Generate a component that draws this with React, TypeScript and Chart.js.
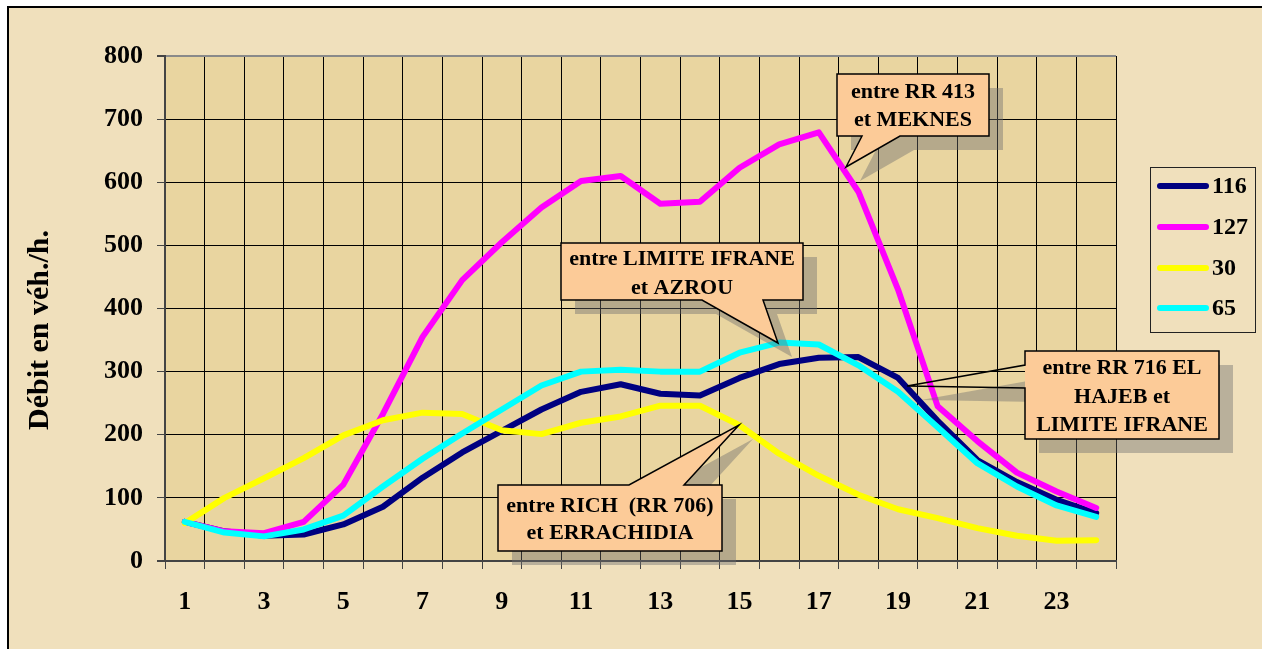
import React, { useEffect, useRef } from "react";
import { Chart, registerables } from "chart.js";

Chart.register(...registerables);

// ---------- DATA ----------
const hours = ["1", "2", "3", "4", "5", "6", "7", "8", "9", "10", "11", "12", "13", "14", "15", "16", "17", "18", "19", "20", "21", "22", "23", "24"];
const series116 = [62, 47, 40, 42, 58, 86, 132, 172, 206, 240, 268, 280, 265, 262, 290, 312, 322, 323, 290, 222, 160, 125, 97, 76];
const series127 = [62, 47, 44, 62, 121, 233, 355, 445, 505, 560, 602, 610, 566, 569, 623, 660, 679, 585, 430, 245, 190, 140, 110, 84];
const series30 = [60, 100, 131, 163, 199, 223, 235, 233, 207, 201, 219, 229, 246, 246, 215, 170, 135, 105, 82, 68, 52, 40, 32, 33];
const series65 = [62, 45, 39, 50, 72, 118, 162, 202, 240, 278, 300, 303, 300, 300, 330, 346, 343, 310, 268, 212, 155, 118, 88, 70];
const seriesNames = ["116", "127", "30", "65"];
const seriesColors = ["#000080", "#FF00FF", "#FFFF00", "#00FFFF"];
const yTitle = "Débit en véh./h.";
const calloutMeknes = ["entre RR 413", "et MEKNES"];
const calloutAzrou = ["entre LIMITE IFRANE", "et AZROU"];
const calloutHajeb = ["entre RR 716 EL", "HAJEB et", "LIMITE IFRANE"];
const calloutRich = ["entre RICH  (RR 706)", "et ERRACHIDIA"];

const FONT = "'Liberation Serif', 'Times New Roman', serif";

type Pt = [number, number];

function drawCallout(
  ctx: CanvasRenderingContext2D,
  poly: Pt[],
  rect: [number, number, number, number],
  lines: string[],
  textY: number[],
  fillWedge: boolean
) {
  const off = 14;
  // shadow
  ctx.save();
  ctx.fillStyle = "rgba(110,110,110,0.42)";
  ctx.beginPath();
  poly.forEach((p, i) => (i ? ctx.lineTo(p[0] + off, p[1] + off) : ctx.moveTo(p[0] + off, p[1] + off)));
  ctx.closePath();
  ctx.fill();
  ctx.restore();
  // body
  ctx.save();
  ctx.fillStyle = "#FCCB98";
  ctx.beginPath();
  if (fillWedge) {
    poly.forEach((p, i) => (i ? ctx.lineTo(p[0], p[1]) : ctx.moveTo(p[0], p[1])));
    ctx.closePath();
  } else {
    ctx.rect(rect[0], rect[1], rect[2], rect[3]);
  }
  ctx.fill();
  ctx.strokeStyle = "#000";
  ctx.lineWidth = 1.5;
  ctx.lineJoin = "miter";
  ctx.beginPath();
  poly.forEach((p, i) => (i ? ctx.lineTo(p[0], p[1]) : ctx.moveTo(p[0], p[1])));
  ctx.closePath();
  ctx.stroke();
  ctx.fillStyle = "#000";
  ctx.font = `bold 22px ${FONT}`;
  ctx.textAlign = "center";
  ctx.textBaseline = "middle";
  const cx = rect[0] + rect[2] / 2;
  lines.forEach((t, i) => ctx.fillText(t, cx, textY[i]));
  ctx.restore();
}

const backgroundPlugin = {
  id: "bgPlugin",
  beforeDraw(chart: any) {
    const { ctx, chartArea } = chart;
    ctx.save();
    ctx.fillStyle = "#FFFFFF";
    ctx.fillRect(0, 0, chart.width, chart.height);
    ctx.fillStyle = "#F0E0BC";
    ctx.fillRect(8, 7, chart.width - 8, chart.height - 7);
    ctx.strokeStyle = "#000";
    ctx.lineWidth = 2;
    ctx.beginPath();
    ctx.moveTo(8, chart.height);
    ctx.lineTo(8, 7);
    ctx.lineTo(chart.width, 7);
    ctx.stroke();
    ctx.fillStyle = "#E9D5A0";
    ctx.fillRect(chartArea.left, chartArea.top, chartArea.right - chartArea.left, chartArea.bottom - chartArea.top);
    ctx.restore();
  },
};

const overlayPlugin = {
  id: "overlayPlugin",
  afterDraw(chart: any) {
    const { ctx } = chart;
    // y title
    ctx.save();
    ctx.translate(40, 330);
    ctx.rotate(-Math.PI / 2);
    ctx.font = `bold 30px ${FONT}`;
    ctx.fillStyle = "#000";
    ctx.textAlign = "center";
    ctx.textBaseline = "middle";
    ctx.fillText(yTitle, 0, 0);
    ctx.restore();

    // callouts
    drawCallout(
      ctx,
      [[837, 74], [989, 74], [989, 136], [900, 136], [846, 167], [862, 136], [837, 136]],
      [837, 74, 152, 62],
      calloutMeknes,
      [92, 120],
      true
    );
    drawCallout(
      ctx,
      [[561, 243], [803, 243], [803, 300], [763, 300], [778, 343], [702, 300], [561, 300]],
      [561, 243, 242, 57],
      calloutAzrou,
      [259, 288],
      true
    );
    drawCallout(
      ctx,
      [[1025, 351], [1219, 351], [1219, 439], [1025, 439], [1025, 388], [907, 386], [1025, 365]],
      [1025, 351, 194, 88],
      calloutHajeb,
      [368, 397, 425],
      false
    );
    drawCallout(
      ctx,
      [[498, 485], [629, 485], [739, 425], [684, 485], [722, 485], [722, 551], [498, 551]],
      [498, 485, 224, 66],
      calloutRich,
      [506, 533],
      true
    );

    // legend
    ctx.save();
    ctx.strokeStyle = "#222";
    ctx.lineWidth = 1;
    ctx.strokeRect(1150.5, 167.5, 105, 165);
    const ys = [186, 227, 268, 308];
    seriesNames.forEach((name, i) => {
      ctx.strokeStyle = seriesColors[i];
      ctx.lineWidth = 6;
      ctx.lineCap = "round";
      ctx.beginPath();
      ctx.moveTo(1160, ys[i]);
      ctx.lineTo(1206, ys[i]);
      ctx.stroke();
      ctx.fillStyle = "#000";
      ctx.font = `bold 24px ${FONT}`;
      ctx.textAlign = "left";
      ctx.textBaseline = "middle";
      ctx.fillText(name, 1212, ys[i] + 1);
    });
    ctx.restore();
  },
};

export default function App() {
  const canvasRef = useRef<HTMLCanvasElement | null>(null);

  useEffect(() => {
    const canvas = canvasRef.current;
    if (!canvas) return;
    const allSeries = [series116, series127, series30, series65];
    const chart = new Chart(canvas, {
      type: "line",
      data: {
        labels: hours,
        datasets: allSeries.map((d, i) => ({
          label: seriesNames[i],
          data: d,
          borderColor: seriesColors[i],
          backgroundColor: seriesColors[i],
          borderWidth: 6,
          pointRadius: 0,
          tension: 0,
          fill: false,
          borderJoinStyle: "round" as const,
          borderCapStyle: "round" as const,
          order: 4 - i,
        })),
      },
      options: {
        responsive: false,
        animation: false,
        devicePixelRatio: 1,
        layout: { padding: { left: 0, top: 56, right: 146, bottom: 0 } },
        plugins: {
          legend: { display: false },
          tooltip: { enabled: false },
          title: { display: false },
        },
        scales: {
          x: {
            type: "category",
            offset: true,
            grid: {
              offset: true,
              color: (c: any) => (c.index >= 24 ? "#8a8a8a" : "#000"),
              lineWidth: (c: any) => (c.index >= 24 ? 2 : 1),
              drawTicks: true,
              tickLength: 8,
              tickColor: "#444",
            },
            border: { display: true, color: "#444", width: 2 },
            ticks: {
              autoSkip: false,
              maxRotation: 0,
              padding: 18,
              color: "#000",
              font: { family: FONT, size: 26, weight: "bold" },
              callback: (_v: any, idx: number) => (idx % 2 === 0 ? hours[idx] : ""),
            },
            afterFit: (s: any) => {
              s.height = 88;
            },
          },
          y: {
            min: 0,
            max: 800,
            ticks: {
              stepSize: 100,
              padding: 14,
              color: "#000",
              font: { family: FONT, size: 26, weight: "bold" },
            },
            grid: {
              color: (c: any) => (c.tick && c.tick.value === 800 ? "#8a8a8a" : c.tick && c.tick.value === 0 ? "#444" : "#000"),
              lineWidth: (c: any) => (c.tick && (c.tick.value === 800 || c.tick.value === 0) ? 2 : 1),
              tickLength: 8,
              tickColor: "#444",
            },
            border: { display: true, color: "#444", width: 2 },
            afterFit: (s: any) => {
              s.width = 165;
            },
          },
        },
      },
      plugins: [backgroundPlugin, overlayPlugin],
    });
    return () => chart.destroy();
  }, []);

  return (
    <div style={{ position: "absolute", left: 0, top: 0, width: 1262, height: 649 }}>
      <canvas ref={canvasRef} width={1262} height={649} style={{ display: "block", width: 1262, height: 649 }} />
    </div>
  );
}
